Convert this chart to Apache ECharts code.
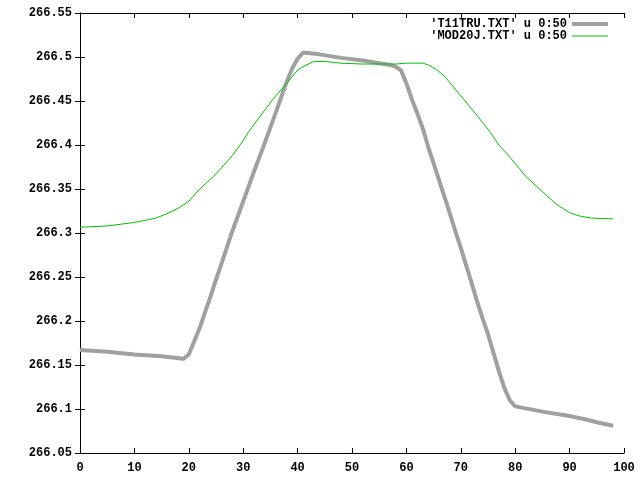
<!DOCTYPE html>
<html><head><meta charset="utf-8">
<script src="https://cdn.jsdelivr.net/npm/echarts@6/dist/echarts.min.js"></script>
<style>html,body{margin:0;padding:0;background:#fff}#c{width:640px;height:480px}</style>
</head><body><div id="c"></div>
<script>
const grayName = "'T11TRU.TXT' u 0:50";
const greenName = "'MOD20J.TXT' u 0:50";
const grayX = [0,5,10,15,19,20,21,22,23,24,25,26,28,30,32,34,36,38,39,40,41,44,48,52,55,57,58,59,60,61,62,63,64,65,66,67,68,69,70,71,72,73,74,75,76,77,78,79,80,85,90,93,95,98];
const grayY = [266.167,266.165,266.162,266.160,266.157,266.162,266.177,266.192,266.210,266.228,266.247,266.265,266.302,266.336,266.370,266.403,266.437,266.472,266.487,266.498,266.505,266.503,266.499,266.496,266.493,266.491,266.489,266.485,266.470,266.452,266.436,266.419,266.398,266.379,266.360,266.341,266.322,266.302,266.283,266.263,266.243,266.222,266.203,266.185,266.164,266.143,266.124,266.110,266.103,266.097,266.092,266.088,266.085,266.081];
const greenX = [0,5,7.5,10,14,16,18,20,22,24.5,26,28,30,31,34,36,38,40,41,43,45,48,52,55,58,60,63,64,65.5,67,68.5,70,72,75,77,78.5,80,82,85,87.5,90,92,94,98];
const greenY = [266.3065,266.308,266.310,266.312,266.317,266.322,266.328,266.336,266.350,266.364,266.374,266.388,266.405,266.415,266.440,266.456,266.470,266.485,266.489,266.495,266.495,266.493,266.492,266.492,266.492,266.493,266.493,266.491,266.486,266.478,266.467,266.456,266.441,266.418,266.400,266.390,266.379,266.364,266.347,266.333,266.323,266.319,266.317,266.316];
const xTicks = {min:0, max:100, step:10};
const yTicks = {min:266.05, max:266.55, step:0.05};

const font = 'Liberation Mono';
const chart = echarts.init(document.getElementById('c'), null, {renderer:'canvas'});
const zip = (xs, ys) => xs.map((x,i)=>[x, ys[i]]);
const axLine = {show:true, lineStyle:{color:'#000', width:1}};
const tick = {show:true, inside:true, length:5, lineStyle:{color:'#000', width:1}};
chart.setOption({
  animation:false,
  backgroundColor:'#fff',
  grid:{left:80, right:16, top:13, bottom:27, containLabel:false},
  legend:{
    right:30, top:18, orient:'vertical', align:'right', padding:0,
    itemWidth:36, itemHeight:12, itemGap:0,
    itemStyle:{opacity:0},
    textStyle:{fontFamily:font, fontSize:12, fontWeight:'bold', color:'#000', lineHeight:12},
    data:[{name:grayName, lineStyle:{width:4}},{name:greenName, lineStyle:{width:1}}]
  },
  xAxis:[
    {type:'value', min:xTicks.min, max:xTicks.max, interval:xTicks.step, position:'bottom',
     axisLine:axLine, axisTick:tick, splitLine:{show:false},
     axisLabel:{fontFamily:font, fontSize:12, fontWeight:'bold', color:'#000', margin:9}},
    {type:'value', min:xTicks.min, max:xTicks.max, interval:xTicks.step, position:'top',
     axisLine:axLine, axisTick:tick, splitLine:{show:false}, axisLabel:{show:false}}
  ],
  yAxis:[
    {type:'value', min:yTicks.min, max:yTicks.max, interval:yTicks.step, position:'left',
     axisLine:axLine, axisTick:tick, splitLine:{show:false},
     axisLabel:{fontFamily:font, fontSize:12, fontWeight:'bold', color:'#000', margin:8,
       formatter:v=>String(parseFloat(v.toFixed(2)))}},
    {type:'value', min:yTicks.min, max:yTicks.max, interval:yTicks.step, position:'right',
     axisLine:axLine, axisTick:tick, splitLine:{show:false}, axisLabel:{show:false}}
  ],
  series:[
    {name:grayName, type:'line', data:zip(grayX, grayY), symbol:'none', smooth:false,
     lineStyle:{color:'#a0a0a0', width:4}, itemStyle:{color:'#a0a0a0'}, xAxisIndex:0, yAxisIndex:0},
    {name:greenName, type:'line', data:zip(greenX, greenY), symbol:'none', smooth:false,
     lineStyle:{color:'#00c000', width:1}, itemStyle:{color:'#00c000'}, xAxisIndex:0, yAxisIndex:0}
  ]
});
</script></body></html>
